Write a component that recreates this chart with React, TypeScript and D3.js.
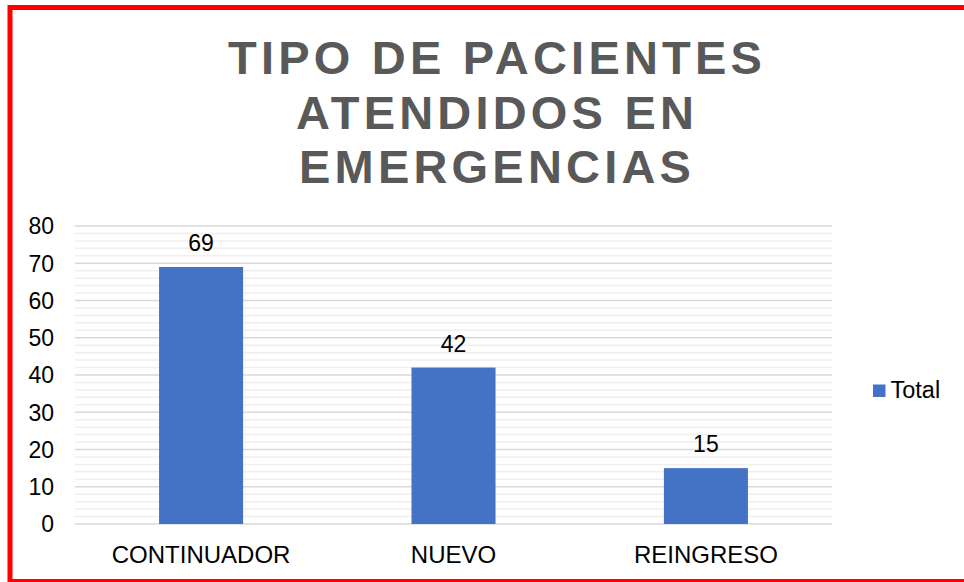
import React from "react";
import * as d3 from "d3";

const categories = ["CONTINUADOR", "NUEVO", "REINGRESO"];
const values = [69, 42, 15];
const yTicks = [0, 10, 20, 30, 40, 50, 60, 70, 80];
const titleLines = ["TIPO DE PACIENTES", "ATENDIDOS EN", "EMERGENCIAS"];
const seriesName = "Total";

export default function App() {
  const W = 964, H = 582;
  const left = 75, right = 832, top = 226, bottom = 524;
  const x = d3.scaleBand<string>().domain(categories).range([left, right]).paddingInner(0.667).paddingOuter(0.333);
  const y = d3.scaleLinear().domain([0, 80]).range([bottom, top]);
  const minorTicks = d3.range(0, 81, 2).filter((v) => v % 10 !== 0);
  const font = "'Liberation Sans', Arial, sans-serif";
  const ls = 4.2;
  return (
    <svg width={W} height={H} style={{ position: "fixed", left: 0, top: 0, background: "#fff" }} fontFamily={font}>
      <rect x={0} y={0} width={W} height={H} fill="#fff" />
      <rect x={10} y={7.5} width={1000} height={574} fill="none" stroke="#ff0000" strokeWidth={5} />
      {titleLines.map((t, i) => (
        <text key={t} x={495 + ls / 2} y={74 + i * 54.5} textAnchor="middle" fontSize={47} fontWeight="bold" fill="#595959" letterSpacing={ls}>
          {t}
        </text>
      ))}
      {minorTicks.map((v) => (
        <line key={"m" + v} x1={left} x2={right} y1={y(v)} y2={y(v)} stroke="#efefef" strokeWidth={1.5} />
      ))}
      {yTicks.map((v) => (
        <line key={"g" + v} x1={left} x2={right} y1={y(v)} y2={y(v)} stroke="#d9d9d9" strokeWidth={1.5} />
      ))}
      {yTicks.map((v) => (
        <text key={"t" + v} x={54} y={y(v)} dy="0.36em" textAnchor="end" fontSize={23} fill="#000">
          {v}
        </text>
      ))}
      {categories.map((c, i) => (
        <g key={c}>
          <rect x={x(c)} y={y(values[i])} width={x.bandwidth()} height={y(0) - y(values[i])} fill="#4472C4" />
          <text x={(x(c) as number) + x.bandwidth() / 2} y={y(values[i]) - 16} textAnchor="middle" fontSize={23} fill="#000">
            {values[i]}
          </text>
          <text x={(x(c) as number) + x.bandwidth() / 2} y={562.5} textAnchor="middle" fontSize={24} fill="#000">
            {c}
          </text>
        </g>
      ))}
      <rect x={873} y={384.5} width={12.5} height={12.5} fill="#4472C4" />
      <text x={890.5} y={398} fontSize={23.5} fill="#000">{seriesName}</text>
    </svg>
  );
}
